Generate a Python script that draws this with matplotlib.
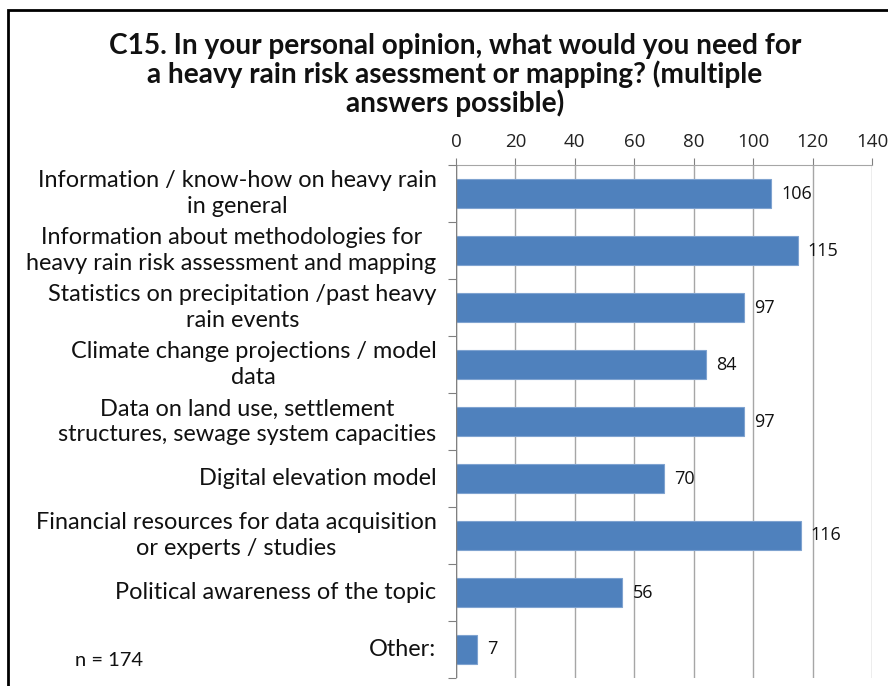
import matplotlib
matplotlib.use("Agg")
import matplotlib.pyplot as plt
from matplotlib.patches import Rectangle

categories = [
    "Information / know-how on heavy rain\nin general",
    "Information about methodologies for\nheavy rain risk assessment and mapping",
    "Statistics on precipitation /past heavy\nrain events",
    "Climate change projections / model\ndata",
    "Data on land use, settlement\nstructures, sewage system capacities",
    "Digital elevation model",
    "Financial resources for data acquisition\nor experts / studies",
    "Political awareness of the topic",
    "Other:",
]
values = [106, 115, 97, 84, 97, 70, 116, 56, 7]
x_ticks = [0, 20, 40, 60, 80, 100, 120, 140]
title = "C15. In your personal opinion, what would you need for\na heavy rain risk asessment or mapping? (multiple\nanswers possible)"
note = "n = 174"

fig = plt.figure(figsize=(8.88, 6.86), dpi=100)
ax = fig.add_axes([456/888, 1-678/686, (872-456)/888, (678-165)/686])

ypos = list(range(len(categories)))
ax.barh(ypos, values, height=0.5, color="#4F81BD", edgecolor="#7FA3D0", linewidth=0.8, zorder=3)
ax.set_ylim(len(categories)-0.5, -0.5)
ax.set_xlim(0, 140)
ax.set_xticks(x_ticks)
ax.xaxis.tick_top()
ax.tick_params(axis="x", length=5, color="#808080", labelsize=13.5, pad=5, labelcolor="#222222")
for lab in ax.get_xticklabels():
    lab.set_fontfamily("Open Sans")
ax.grid(axis="x", color="#A6A6A6", linewidth=1, zorder=0)
ax.set_yticks([i - 0.5 for i in range(len(categories)+1)], minor=False)
ax.set_yticklabels([])
ax.tick_params(axis="y", length=6, color="#808080", direction="out")
ax.set_yticks(ypos, minor=True)
ax.set_yticklabels(categories, minor=True, fontsize=16.9, fontfamily="Lato", color="#111111",
                   linespacing=1.25)
ax.tick_params(axis="y", which="minor", length=0, pad=14)
for sp in ["right", "bottom", "left"]:
    ax.spines[sp].set_visible(False)
ax.spines["top"].set_color("#A6A6A6")
ax.axvline(0, color="#808080", linewidth=1, zorder=4)
for lab in ax.get_yticklabels(minor=True):
    lab.set_horizontalalignment("right")
    lab.set_multialignment("center")
    lab.set_verticalalignment("center")

for y, v in zip(ypos, values):
    ax.text(v + 3.4, y, str(v), va="center", ha="left", fontsize=13, fontfamily="Open Sans", color="#111111")

fig.text(455/888, 1-75/686, title, ha="center", va="center", fontsize=20.2, fontweight="bold",
         fontfamily="Lato", linespacing=1.05, color="#111111")
fig.text(75/888, 1-661/686, note, ha="left", va="center", fontsize=14.5, fontfamily="Lato", color="#111111")

fig.patches.append(Rectangle((8/888, -0.1), 1.2, 1-10/686+0.1, transform=fig.transFigure,
                             fill=False, edgecolor="black", linewidth=2, figure=fig))

fig.savefig("out.png", dpi=100)
